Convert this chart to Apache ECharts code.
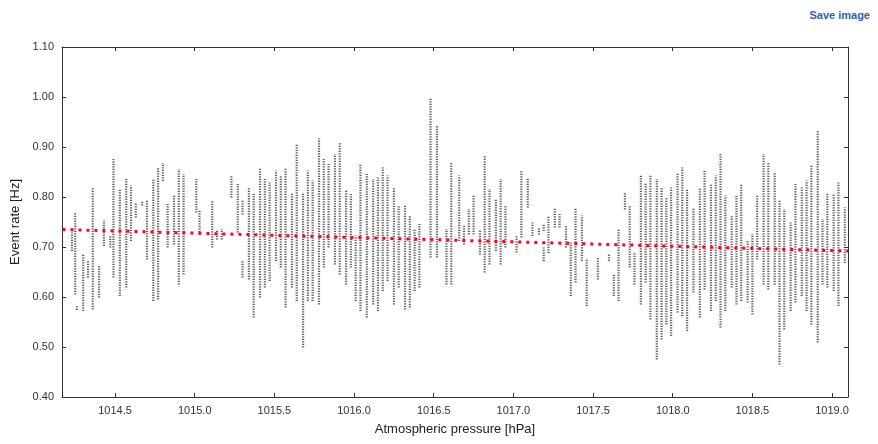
<!DOCTYPE html>
<html>
<head>
<meta charset="utf-8">
<script src="https://cdn.jsdelivr.net/npm/echarts@6/dist/echarts.min.js"></script>
<style>
  html, body { margin: 0; padding: 0; background: #fff; }
  #main { width: 878px; height: 444px; }
  #save { position: absolute; right: 8px; top: 9px; font: bold 11px "Liberation Sans", Arial, sans-serif; color: #2a63b8; }
</style>
</head>
<body>
<div id="save">Save image</div>
<div id="main"></div>
<script>
// pressure columns: [hPa, low rate, high rate]
var columns = [
  [1014.23,0.694,0.727],[1014.25,0.607,0.767],[1014.26,0.576,0.581],[1014.30,0.574,0.684],
  [1014.33,0.641,0.671],[1014.36,0.577,0.817],[1014.40,0.601,0.661],[1014.43,0.704,0.751],
  [1014.47,0.701,0.721],[1014.49,0.641,0.874],[1014.53,0.604,0.814],[1014.57,0.621,0.834],
  [1014.60,0.714,0.821],[1014.63,0.761,0.787],[1014.67,0.785,0.791],[1014.70,0.677,0.791],
  [1014.74,0.594,0.834],[1014.77,0.597,0.857],[1014.80,0.834,0.866],[1014.83,0.701,0.784],
  [1014.87,0.707,0.801],[1014.90,0.627,0.854],[1014.93,0.647,0.844],[1015.01,0.771,0.834],
  [1015.03,0.727,0.771],[1015.11,0.701,0.791],[1015.14,0.717,0.731],[1015.17,0.717,0.734],
  [1015.23,0.801,0.842],[1015.27,0.731,0.824],[1015.30,0.767,0.791],[1015.30,0.641,0.671],
  [1015.34,0.637,0.817],[1015.37,0.561,0.804],[1015.41,0.601,0.857],[1015.44,0.621,0.834],
  [1015.47,0.634,0.827],[1015.51,0.674,0.851],[1015.54,0.661,0.841],[1015.57,0.581,0.857],
  [1015.61,0.621,0.807],[1015.64,0.594,0.904],[1015.68,0.501,0.807],[1015.71,0.594,0.851],
  [1015.74,0.594,0.831],[1015.78,0.587,0.915],[1015.81,0.661,0.874],[1015.84,0.701,0.864],
  [1015.88,0.667,0.884],[1015.91,0.647,0.907],[1015.95,0.627,0.811],[1015.98,0.661,0.804],
  [1016.01,0.594,0.721],[1016.04,0.574,0.864],[1016.08,0.561,0.844],[1016.12,0.587,0.834],
  [1016.15,0.574,0.837],[1016.18,0.614,0.857],[1016.21,0.634,0.841],[1016.25,0.587,0.817],
  [1016.28,0.621,0.781],[1016.32,0.577,0.781],[1016.35,0.581,0.761],[1016.38,0.614,0.734],
  [1016.41,0.621,0.744],[1016.48,0.681,0.997],[1016.52,0.681,0.941],[1016.58,0.627,0.734],
  [1016.61,0.627,0.867],[1016.66,0.714,0.841],[1016.69,0.707,0.741],[1016.72,0.727,0.774],
  [1016.75,0.727,0.801],[1016.79,0.687,0.731],[1016.82,0.651,0.881],[1016.85,0.667,0.814],
  [1016.89,0.694,0.794],[1016.92,0.667,0.834],[1016.95,0.701,0.781],[1017.02,0.691,0.721],
  [1017.05,0.721,0.851],[1017.09,0.781,0.837],[1017.12,0.724,0.747],[1017.16,0.727,0.737],
  [1017.19,0.734,0.744],[1017.19,0.674,0.697],[1017.22,0.690,0.760],[1017.26,0.741,0.777],
  [1017.29,0.741,0.764],[1017.33,0.701,0.741],[1017.36,0.604,0.707],[1017.39,0.631,0.777],
  [1017.43,0.674,0.761],[1017.46,0.584,0.674],[1017.53,0.637,0.677],[1017.60,0.674,0.684],
  [1017.63,0.604,0.644],[1017.66,0.594,0.734],[1017.70,0.777,0.807],[1017.73,0.661,0.781],
  [1017.76,0.627,0.687],[1017.80,0.587,0.841],[1017.83,0.631,0.827],[1017.86,0.557,0.841],
  [1017.90,0.477,0.834],[1017.93,0.517,0.817],[1017.96,0.547,0.797],[1017.99,0.524,0.817],
  [1018.03,0.571,0.847],[1018.06,0.564,0.857],[1018.09,0.534,0.814],[1018.13,0.611,0.777],
  [1018.17,0.561,0.817],[1018.20,0.617,0.851],[1018.24,0.574,0.824],[1018.27,0.594,0.841],
  [1018.30,0.541,0.884],[1018.33,0.574,0.801],[1018.37,0.621,0.761],[1018.40,0.587,0.801],
  [1018.43,0.594,0.824],[1018.47,0.591,0.711],[1018.50,0.567,0.724],[1018.53,0.677,0.801],
  [1018.57,0.627,0.884],[1018.60,0.617,0.867],[1018.64,0.627,0.847],[1018.67,0.467,0.791],
  [1018.70,0.537,0.774],[1018.74,0.574,0.747],[1018.77,0.591,0.824],[1018.81,0.604,0.817],
  [1018.84,0.574,0.831],[1018.87,0.547,0.861],[1018.91,0.511,0.931],[1018.94,0.627,0.754],
  [1018.97,0.621,0.807],[1019.01,0.614,0.804],[1019.04,0.584,0.827],[1019.08,0.670,0.777]
];
// fitted trend line end points
var trend = [[1014.17, 0.735], [1019.10, 0.692]];
var xTicks = [1014.5, 1015.0, 1015.5, 1016.0, 1016.5, 1017.0, 1017.5, 1018.0, 1018.5, 1019.0];

var font = '"Liberation Sans", Arial, sans-serif';
var myChart = echarts.init(document.getElementById('main'));
var xBase = {
  type: 'value', min: 1014.167, max: 1019.1,
  axisLine: { lineStyle: { color: '#333' } },
  splitLine: { show: false },
  axisTick: { inside: true, length: 4, customValues: xTicks, lineStyle: { color: '#333' } }
};
var yBase = {
  type: 'value', min: 0.4, max: 1.1, interval: 0.1,
  axisLine: { show: true, lineStyle: { color: '#333' } },
  splitLine: { show: false },
  axisTick: { inside: true, length: 4, lineStyle: { color: '#333' } }
};
myChart.setOption({
  animation: false,
  grid: { left: 62, right: 30, top: 47, bottom: 47 },
  xAxis: [
    Object.assign({}, xBase, {
      position: 'bottom',
      name: 'Atmospheric pressure [hPa]', nameLocation: 'middle', nameGap: 26,
      nameTextStyle: { fontFamily: font, fontSize: 13, color: '#222' },
      axisLabel: { customValues: xTicks, fontFamily: font, fontSize: 11, color: '#333',
        formatter: function (v) { return v.toFixed(1); } }
    }),
    Object.assign({}, xBase, { position: 'top', axisLabel: { show: false } })
  ],
  yAxis: [
    Object.assign({}, yBase, {
      position: 'left',
      name: 'Event rate [Hz]', nameLocation: 'middle', nameGap: 38,
      nameTextStyle: { fontFamily: font, fontSize: 13, color: '#222' },
      axisLabel: { fontFamily: font, fontSize: 11, color: '#333',
        formatter: function (v) { return v.toFixed(2); } }
    }),
    Object.assign({}, yBase, { position: 'right', axisLabel: { show: false } })
  ],
  series: [
    {
      type: 'custom',
      data: columns,
      renderItem: function (params, api) {
        var p1 = api.coord([api.value(0), api.value(1)]);
        var p2 = api.coord([api.value(0), api.value(2)]);
        return {
          type: 'line',
          shape: { x1: p1[0], y1: p1[1] + 1, x2: p2[0], y2: p2[1] - 1 },
          style: { stroke: '#444', lineWidth: 2.2, lineDash: [1.2, 1.3], opacity: 0.85 }
        };
      },
      encode: { x: 0, y: [1, 2] }
    },
    {
      type: 'line',
      data: trend,
      symbol: 'none',
      lineStyle: { color: '#ff0022', width: 3, type: [3, 5] },
      z: 5
    }
  ]
});
</script>
</body>
</html>
